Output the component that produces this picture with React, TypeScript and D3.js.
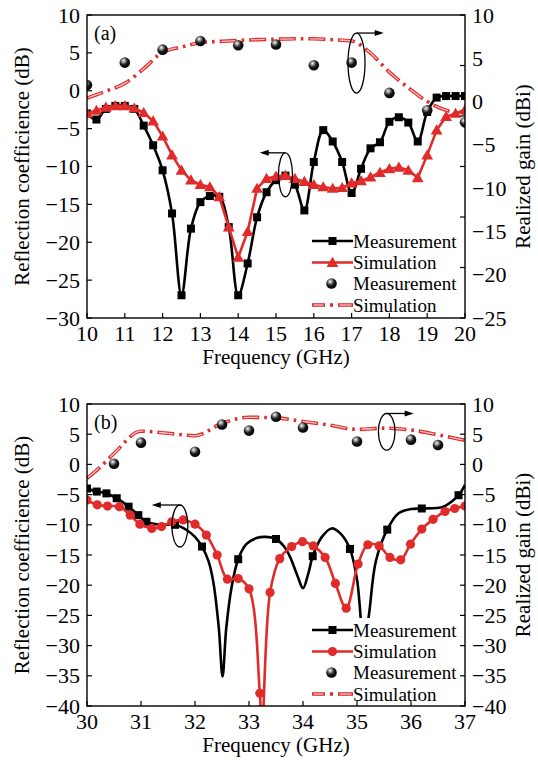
import React from 'react';
import * as d3 from 'd3';

const W = 538;
const H = 760;
const RED = '#e12b2b';
const PINK = '#f7c4c4';
const FONT = "'Liberation Serif', 'Times New Roman', 'DejaVu Serif', serif";

// ---------- Panel (a) data ----------
const aFreq = [10, 10.25, 10.5, 10.75, 11, 11.25, 11.5, 11.75, 12, 12.25, 12.5, 12.75, 13, 13.25, 13.5, 13.75, 14, 14.25, 14.5, 14.75, 15, 15.25, 15.5, 15.75, 16, 16.25, 16.5, 16.75, 17, 17.25, 17.5, 17.75, 18, 18.25, 18.5, 18.75, 19, 19.25, 19.5, 19.75, 20];
const aS11Meas = [-3.0, -3.8, -2.4, -2.0, -2.0, -2.4, -4.6, -7.2, -10.5, -16.2, -27.0, -18.2, -14.7, -13.9, -14.0, -18.0, -27.0, -22.8, -16.7, -13.4, -11.8, -11.2, -12.4, -15.8, -9.4, -5.2, -6.7, -9.4, -13.5, -10.3, -7.6, -6.8, -4.1, -3.5, -4.2, -6.7, -2.8, -0.9, -0.7, -0.7, -0.7];
const aS11Sim = [-3.0, -2.6, -2.2, -2.0, -2.0, -2.3, -2.9, -4.0, -6.0, -8.5, -10.5, -11.8, -12.4, -12.7, -14.0, -18.0, -22.0, -18.6, -12.9, -11.6, -11.3, -11.2, -11.6, -12.0, -12.4, -12.7, -12.9, -12.8, -12.2, -11.9, -11.4, -10.8, -10.3, -10.1, -10.5, -11.5, -8.5, -5.2, -3.4, -3.0, -2.5];
const aGainMeasFreq = [10, 11, 12, 13, 14, 15, 16, 17, 18, 19, 20];
const aGainMeas = [1.9, 4.5, 6.0, 7.0, 6.5, 6.6, 4.2, 4.5, 1.0, -1.0, -2.4];
const aGainSimFreq = [10, 10.5, 11, 11.5, 12, 12.5, 13, 13.5, 14, 14.5, 15, 15.5, 16, 16.5, 17, 17.5, 18, 18.5, 19, 19.5, 20];
const aGainSim = [0.4, 1.2, 2.1, 3.8, 5.7, 6.3, 6.8, 6.95, 7.05, 7.15, 7.2, 7.25, 7.25, 7.15, 7.0, 5.6, 3.4, 1.6, 0.0, -1.0, -1.4];
const aXTicks = [10, 11, 12, 13, 14, 15, 16, 17, 18, 19, 20];
const aLeftTicks = [10, 5, 0, -5, -10, -15, -20, -25, -30];
const aRightTicks = [10, 5, 0, -5, -10, -15, -20, -25];

// ---------- Panel (b) data ----------
const bMeasFreq = [30.0, 30.18, 30.36, 30.55, 30.77, 30.95, 31.1, 31.35, 31.63, 31.85, 32.0, 32.13, 32.25, 32.34, 32.44, 32.51, 32.58, 32.68, 32.8, 32.95, 33.14, 33.3, 33.5, 33.65, 33.76, 33.9, 34.0, 34.1, 34.18, 34.35, 34.53, 34.7, 34.87, 35.0, 35.13, 35.22, 35.35, 35.56, 35.77, 36.0, 36.2, 36.6, 36.88, 37.0];
const bMeasVal = [-4.0, -4.5, -4.8, -5.6, -7.0, -8.4, -9.5, -10.0, -10.0, -10.9, -12.0, -13.6, -16.0, -19.5, -27.0, -35.1, -27.0, -20.2, -15.7, -13.2, -12.2, -12.0, -12.35, -13.6, -15.3, -18.5, -20.5, -18.0, -15.2, -12.0, -10.6, -11.5, -14.0, -19.0, -30.0, -25.0, -16.0, -10.8, -8.1, -7.4, -7.3, -7.0, -5.1, -3.4];
const bMeasMark = [1, 1, 1, 1, 1, 1, 1, 0, 1, 0, 0, 1, 0, 0, 0, 0, 0, 0, 1, 0, 0, 0, 1, 0, 0, 0, 0, 0, 1, 0, 0, 0, 1, 0, 0, 0, 0, 1, 0, 0, 1, 0, 1, 0];
const bSimFreq = [30.0, 30.19, 30.38, 30.6, 30.8, 30.98, 31.2, 31.38, 31.57, 31.78, 32.0, 32.21, 32.41, 32.6, 32.8, 33.0, 33.2, 33.24, 33.39, 33.57, 33.79, 33.99, 34.19, 34.41, 34.6, 34.8, 35.02, 35.2, 35.41, 35.61, 35.81, 35.99, 36.2, 36.41, 36.63, 36.81, 37.0];
const bSimVal = [-5.9, -6.7, -6.9, -7.0, -8.4, -9.9, -10.6, -10.3, -9.5, -9.2, -9.9, -11.7, -15.0, -19.0, -18.9, -20.6, -37.9, -44.0, -21.2, -15.6, -13.6, -12.8, -13.5, -15.4, -19.7, -23.8, -16.5, -13.3, -13.5, -15.4, -15.8, -13.2, -10.7, -9.1, -7.8, -7.3, -6.9];
const bSimMark = [1, 1, 1, 1, 1, 1, 1, 1, 1, 1, 1, 1, 1, 1, 1, 1, 1, 0, 1, 1, 1, 1, 1, 1, 1, 1, 1, 1, 1, 1, 1, 1, 1, 1, 1, 1, 1];
const bGainMeasFreq = [30.5, 31, 32, 32.5, 33, 33.5, 34, 35, 36, 36.5];
const bGainMeas = [0.1, 3.6, 2.1, 6.6, 5.6, 7.9, 6.1, 3.8, 4.1, 3.2];
const bGainSimFreq = [30, 30.25, 30.5, 31, 31.5, 32, 32.5, 33, 33.5, 34, 34.5, 35, 35.5, 36, 36.5, 37];
const bGainSim = [-2.3, -0.4, 1.8, 5.5, 5.15, 4.75, 6.8, 7.8, 7.7, 7.1, 6.5, 5.8, 6.0, 5.7, 4.9, 4.0];
const bXTicks = [30, 31, 32, 33, 34, 35, 36, 37];
const bLeftTicks = [10, 5, 0, -5, -10, -15, -20, -25, -30, -35, -40];
const bRightTicks = [10, 5, 0, -5, -10, -15, -20, -25, -30, -35, -40];

const legendLabels = ['Measurement', 'Simulation', 'Measurement', 'Simulation'];

const fmt = (v: number) => (v < 0 ? '\u2212' + Math.abs(v) : String(v));

type PanelProps = {
  id: string;
  top: number;
  bottom: number;
  xDomain: [number, number];
  xTicks: number[];
  yL: [number, number];
  yLTicks: number[];
  yR: [number, number];
  yRTicks: number[];
  rightMarkCount: number | null;
  meas: { f: number[]; v: number[]; mark: number[] | null; curve: any };
  sim: { f: number[]; v: number[]; mark: number[] | null; curve: any; symbol: 'triangle' | 'circle' };
  gMeas: { f: number[]; v: number[] };
  gSim: { f: number[]; v: number[] };
  label: string;
  s11Ell: { f: number; v: number; rx: number; ry: number; arrowTo: number };
  gEll: { f: number; v: number; rx: number; ry: number; arrowTo: number };
  legendY: number;
};

const LEFT = 87;
const RIGHT = 465;
const TXT = { fontFamily: FONT };
const TICK_FS = 22;
const TITLE_FS = 21;

function Square({ x, y }: { x: number; y: number }) {
  return <rect x={x - 4} y={y - 4} width={8} height={8} fill="#000" />;
}

function Tri({ x, y }: { x: number; y: number }) {
  const p = d3.symbol(d3.symbolTriangle, 60)();
  return <path d={p as string} transform={`translate(${x},${y + 1})`} fill={RED} />;
}

function Dot({ x, y }: { x: number; y: number }) {
  return <circle cx={x} cy={y} r={4.6} fill={RED} />;
}

function Ball({ x, y }: { x: number; y: number }) {
  return <circle cx={x} cy={y} r={5.3} fill="url(#ball)" />;
}

function DashDot({ d }: { d: string }) {
  return (
    <g>
      <path d={d} fill="none" stroke={RED} strokeWidth={3.6} strokeDasharray="17 5 2.6 5" />
      <path d={d} fill="none" stroke={PINK} strokeWidth={1.3} strokeDasharray="14 15.6" strokeDashoffset={-1.5} />
    </g>
  );
}

function Panel(p: PanelProps) {
  const x = d3.scaleLinear().domain(p.xDomain).range([LEFT, RIGHT]);
  const yl = d3.scaleLinear().domain(p.yL).range([p.bottom, p.top]);
  const yr = d3.scaleLinear().domain(p.yR).range([p.bottom, p.top]);
  const clip = `clip-${p.id}`;

  const lineL = (f: number[], v: number[], curve: any) =>
    d3.line<number>().x((_, i) => x(f[i])).y((_, i) => yl(v[i])).curve(curve)(f) as string;
  const lineR = (f: number[], v: number[], curve: any) =>
    d3.line<number>().x((_, i) => x(f[i])).y((_, i) => yr(v[i])).curve(curve)(f) as string;

  const rightMarks = p.rightMarkCount
    ? d3.range(p.rightMarkCount + 1).map((i) => p.bottom - (i * (p.bottom - p.top)) / p.rightMarkCount!)
    : p.yRTicks.map((t) => yr(t));

  const lx0 = 312;
  const lx1 = 353;
  const rows = [0, 21.5, 42.5, 64].map((d) => p.legendY + d);
  const midY = (p.top + p.bottom) / 2;

  const ell = (e: PanelProps['s11Ell'], ys: any, dir: number) => {
    const cx = x(e.f);
    const cy = ys(e.v);
    const ay = cy - e.ry;
    const ax2 = x(e.arrowTo);
    return (
      <g>
        <ellipse cx={cx} cy={cy} rx={e.rx} ry={e.ry} fill="none" stroke="#000" strokeWidth={1.3} />
        <line x1={cx} y1={ay} x2={ax2 - dir * 7} y2={ay} stroke="#000" strokeWidth={1.3} />
        <path d={`M${ax2},${ay} L${ax2 - dir * 9},${ay - 3} L${ax2 - dir * 9},${ay + 3} Z`} fill="#000" />
      </g>
    );
  };

  return (
    <g>
      <defs>
        <clipPath id={clip}>
          <rect x={LEFT} y={p.top} width={RIGHT - LEFT} height={p.bottom - p.top} />
        </clipPath>
      </defs>
      <g clipPath={`url(#${clip})`}>
        <DashDot d={lineR(p.gSim.f, p.gSim.v, d3.curveMonotoneX)} />
        <path d={lineL(p.meas.f, p.meas.v, p.meas.curve)} fill="none" stroke="#000" strokeWidth={2.6} />
        {p.meas.f.map((f, i) =>
          !p.meas.mark || p.meas.mark[i] ? <Square key={i} x={x(f)} y={yl(p.meas.v[i])} /> : null
        )}
        <path d={lineL(p.sim.f, p.sim.v, p.sim.curve)} fill="none" stroke={RED} strokeWidth={2.6} />
        {p.sim.f.map((f, i) =>
          !p.sim.mark || p.sim.mark[i] ? (
            p.sim.symbol === 'triangle' ? (
              <Tri key={i} x={x(f)} y={yl(p.sim.v[i])} />
            ) : (
              <Dot key={i} x={x(f)} y={yl(p.sim.v[i])} />
            )
          ) : null
        )}
        {p.gMeas.f.map((f, i) => (
          <Ball key={i} x={x(f)} y={yr(p.gMeas.v[i])} />
        ))}
      </g>

      {ell(p.s11Ell, yl, -1)}
      {ell(p.gEll, yr, 1)}

      <rect x={309} y={p.legendY - 12} width={152} height={88} fill="#fff" />
      <line x1={lx0} x2={lx1} y1={rows[0]} y2={rows[0]} stroke="#000" strokeWidth={2.6} />
      <Square x={(lx0 + lx1) / 2} y={rows[0]} />
      <line x1={lx0} x2={lx1} y1={rows[1]} y2={rows[1]} stroke={RED} strokeWidth={2.6} />
      {p.sim.symbol === 'triangle' ? (
        <Tri x={(lx0 + lx1) / 2} y={rows[1]} />
      ) : (
        <Dot x={(lx0 + lx1) / 2} y={rows[1]} />
      )}
      <Ball x={(lx0 + lx1) / 2 - 1} y={rows[2]} />
      <path d={`M${lx0},${rows[3]} H${lx0 + 13}`} stroke={RED} strokeWidth={3.6} />
      <path d={`M${lx0 + 1.5},${rows[3]} H${lx0 + 11.5}`} stroke={PINK} strokeWidth={1.3} />
      <path d={`M${lx0 + 18},${rows[3]} H${lx0 + 21}`} stroke={RED} strokeWidth={3.6} />
      <path d={`M${lx0 + 26},${rows[3]} H${lx1}`} stroke={RED} strokeWidth={3.6} />
      <path d={`M${lx0 + 27.5},${rows[3]} H${lx1 - 1.5}`} stroke={PINK} strokeWidth={1.3} />
      {legendLabels.map((t, i) => (
        <text key={i} x={lx1} y={rows[i] + 6.5} fontSize={19} style={TXT}>
          {t}
        </text>
      ))}

      <rect x={LEFT} y={p.top} width={RIGHT - LEFT} height={p.bottom - p.top} fill="none" stroke="#000" strokeWidth={1.4} />

      {p.xTicks.map((t) => (
        <g key={t}>
          <line x1={x(t)} x2={x(t)} y1={p.bottom} y2={p.bottom - 5} stroke="#000" strokeWidth={1.2} />
          <text x={x(t)} y={p.bottom + 23} textAnchor="middle" fontSize={TICK_FS} style={TXT}>
            {t}
          </text>
        </g>
      ))}
      {p.yLTicks.map((t) => (
        <g key={t}>
          <line x1={LEFT} x2={LEFT + 5} y1={yl(t)} y2={yl(t)} stroke="#000" strokeWidth={1.2} />
          <text x={LEFT - 7} y={yl(t) + 7.5} textAnchor="end" fontSize={TICK_FS} style={TXT}>
            {fmt(t)}
          </text>
        </g>
      ))}
      {rightMarks.map((yy, i) => (
        <line key={i} x1={RIGHT} x2={RIGHT - 5} y1={yy} y2={yy} stroke="#000" strokeWidth={1.2} />
      ))}
      {p.yRTicks.map((t) => (
        <text key={t} x={RIGHT + 7} y={yr(t) + 7.5} textAnchor="start" fontSize={TICK_FS} style={TXT}>
          {fmt(t)}
        </text>
      ))}

      <text x={94} y={p.top + 25} fontSize={20} style={TXT}>
        {p.label}
      </text>
      <text x={(LEFT + RIGHT) / 2} y={p.bottom + 46} textAnchor="middle" fontSize={TITLE_FS} style={TXT}>
        Frequency (GHz)
      </text>
      <text transform={`translate(29,${midY}) rotate(-90)`} textAnchor="middle" fontSize={TITLE_FS} style={TXT}>
        Reflection coefficience (dB)
      </text>
      <text transform={`translate(530,${midY}) rotate(-90)`} textAnchor="middle" fontSize={TITLE_FS} style={TXT}>
        Realized gain (dBi)
      </text>
    </g>
  );
}

export default function App() {
  return (
    <svg
      width={W}
      height={H}
      viewBox={`0 0 ${W} ${H}`}
      style={{ position: 'absolute', left: 0, top: 0, background: '#fff', fontFamily: FONT }}
    >
      <defs>
        <radialGradient id="ball" cx="0.38" cy="0.32" r="0.7">
          <stop offset="0" stopColor="#ffffff" />
          <stop offset="0.22" stopColor="#9a9a9a" />
          <stop offset="0.55" stopColor="#1a1a1a" />
          <stop offset="1" stopColor="#000" />
        </radialGradient>
      </defs>
      <rect x={0} y={0} width={W} height={H} fill="#fff" />
      <Panel
        id="a"
        top={15}
        bottom={318}
        xDomain={[10, 20]}
        xTicks={aXTicks}
        yL={[-30, 10]}
        yLTicks={aLeftTicks}
        yR={[-25, 10]}
        yRTicks={aRightTicks}
        rightMarkCount={6}
        meas={{ f: aFreq, v: aS11Meas, mark: null, curve: d3.curveCatmullRom.alpha(0.5) }}
        sim={{ f: aFreq, v: aS11Sim, mark: null, curve: d3.curveLinear, symbol: 'triangle' }}
        gMeas={{ f: aGainMeasFreq, v: aGainMeas }}
        gSim={{ f: aGainSimFreq, v: aGainSim }}
        label="(a)"
        s11Ell={{ f: 15.25, v: -11.1, rx: 7, ry: 22, arrowTo: 14.57 }}
        gEll={{ f: 17.13, v: 4.45, rx: 8.5, ry: 30, arrowTo: 17.85 }}
        legendY={241}
      />
      <Panel
        id="b"
        top={404}
        bottom={706}
        xDomain={[30, 37]}
        xTicks={bXTicks}
        yL={[-40, 10]}
        yLTicks={bLeftTicks}
        yR={[-40, 10]}
        yRTicks={bRightTicks}
        rightMarkCount={null}
        meas={{ f: bMeasFreq, v: bMeasVal, mark: bMeasMark, curve: d3.curveCatmullRom.alpha(0.5) }}
        sim={{ f: bSimFreq, v: bSimVal, mark: bSimMark, curve: d3.curveCatmullRom.alpha(0.5), symbol: 'circle' }}
        gMeas={{ f: bGainMeasFreq, v: bGainMeas }}
        gSim={{ f: bGainSimFreq, v: bGainSim }}
        label="(b)"
        s11Ell={{ f: 31.72, v: -10.2, rx: 8, ry: 21, arrowTo: 31.2 }}
        gEll={{ f: 35.55, v: 5.4, rx: 8.3, ry: 18.3, arrowTo: 36.05 }}
        legendY={630}
      />
    </svg>
  );
}
